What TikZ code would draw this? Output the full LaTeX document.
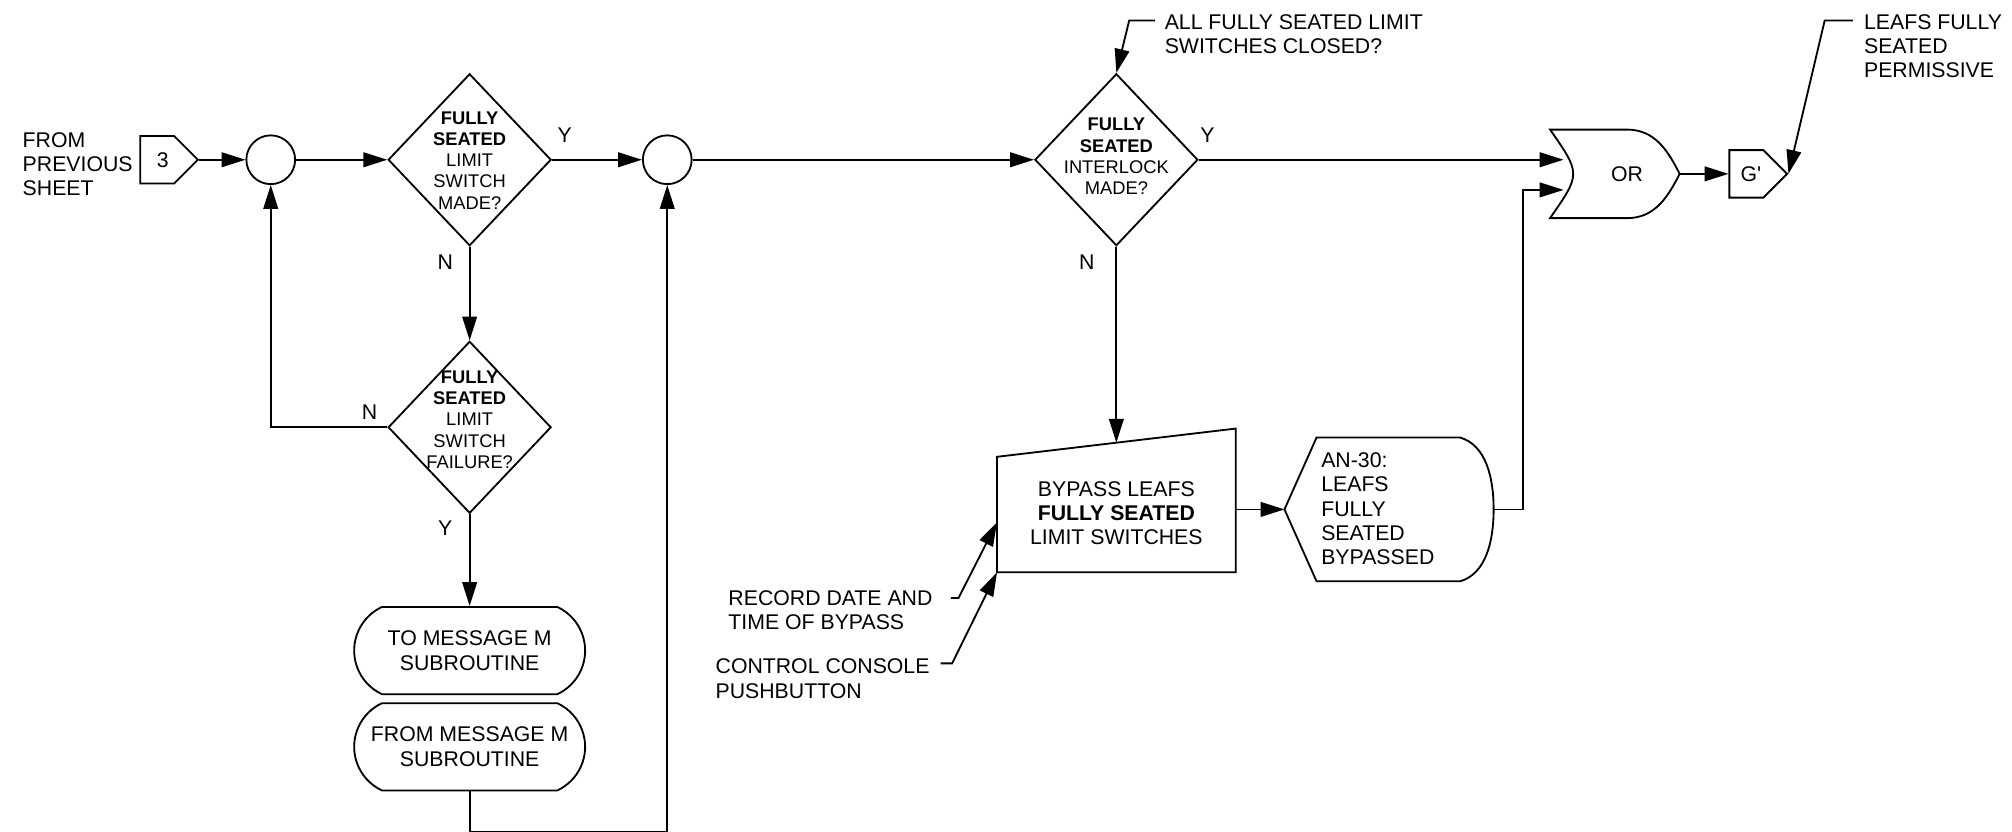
\documentclass[tikz,border=0pt]{standalone}
\usepackage{fontspec}
\setmainfont{Liberation Sans}
\usetikzlibrary{shapes.geometric,shapes.misc,shapes.symbols,arrows.meta}

\begin{document}
\begin{tikzpicture}[x=0.7pt, y=-0.7pt, line width=1pt,
  >={Triangle[length=13pt,width=8pt]},
  every node/.style={font=\fontsize{11.6}{13.3}\selectfont, inner sep=0pt},
  txt/.style={align=left, anchor=west},
  decision/.style={draw, diamond, minimum width=88.9pt, minimum height=93.8pt},
  qtext/.style={align=center, font=\fontsize{10}{11.6}\selectfont},
  joint/.style={draw, circle, minimum size=26.6pt},
  offpage/.style={draw, signal, signal to=east, signal pointer angle=90,
    minimum width=31.5pt, minimum height=25.9pt},
  terminal/.style={draw, rounded rectangle, rounded rectangle arc length=130,
    minimum width=126pt, minimum height=47.6pt, align=center}]
  \useasboundingbox (0,0) rectangle (1568,648);

  % left column
  \node[txt] (prevtxt) at (17,128) {FROM\\PREVIOUS\\SHEET};
  \node[offpage] (sheet3) at (122.5,124.5) {\hspace*{6pt}3};
  \node[joint] (j1) at (211,124.5) {};
  \node[decision] (lsmade) at (366,124.5) {};
  \node[qtext] (lsmadetxt) at (366,125) {\textbf{FULLY}\\\textbf{SEATED}\\LIMIT\\SWITCH\\MADE?};
  \node[decision] (lsfail) at (366,333) {};
  \node[qtext] (lsfailtxt) at (366,327) {\textbf{FULLY}\\\textbf{SEATED}\\LIMIT\\SWITCH\\FAILURE?};
  \node[terminal] (tomsg) at (366,507) {TO MESSAGE M\\SUBROUTINE};
  \node[terminal] (frommsg) at (366,582) {FROM MESSAGE M\\SUBROUTINE};
  \node[joint] (j2) at (520,124.5) {};

  % interlock and bypass
  \node[decision] (ilmade) at (870,124.5) {};
  \node[qtext] (ilmadetxt) at (870,122) {\textbf{FULLY}\\\textbf{SEATED}\\INTERLOCK\\MADE?};
  \coordinate (bp-sw) at (777,446);
  \coordinate (bp-se) at (963,446);
  \coordinate (bp-ne) at (963,334);
  \coordinate (bp-nw) at (777,356);
  \coordinate (bp-top) at (870,345);
  \coordinate (bp-east) at (963,397);
  \coordinate (bp-in) at (777,407);
  \draw (bp-sw) -- (bp-se) -- (bp-ne) -- (bp-nw) -- cycle;
  \node[align=center] (bypass) at (870,400) {BYPASS LEAFS\\\textbf{FULLY SEATED}\\LIMIT SWITCHES};
  \coordinate (an-w) at (1001,397);
  \coordinate (an-e) at (1164,397);
  \draw (an-w) -- (1026,341) -- (1138,341) .. controls (1158,347) and (1164,372) .. (an-e)
    .. controls (1164,422) and (1158,447) .. (1138,453) -- (1026,453) -- cycle;
  \node[txt] (an30) at (1029,396.5) {AN-30:\\LEAFS\\FULLY\\SEATED\\BYPASSED};
  \node[txt] (record) at (567,475.5) {RECORD DATE AND\\TIME OF BYPASS};
  \node[txt] (console) at (557,529) {CONTROL CONSOLE\\PUSHBUTTON};

  % or gate and output
  \coordinate (or-in1) at (1218.5,124.5);
  \coordinate (or-in2) at (1218.5,148);
  \coordinate (or-out) at (1309,135.5);
  \draw (1208,101) -- (1268,101) .. controls (1290,101) and (1300,118) .. (or-out)
    .. controls (1300,153) and (1290,170) .. (1268,170) -- (1208,170)
    .. controls (1232,135.5) .. cycle;
  \node (orlbl) at (1268,135.5) {OR};
  \node[offpage] (gprime) at (1361,135.5) {\hspace*{5pt}G\textquotesingle};
  \node[txt] (allclosed) at (907,26.5) {ALL FULLY SEATED LIMIT\\SWITCHES CLOSED?};
  \node[txt] (permissive) at (1452,36) {LEAFS FULLY\\SEATED\\PERMISSIVE};

  % branch labels
  \node (y1) at (440,105) {Y};
  \node (n1) at (347,204) {N};
  \node (n2) at (288,321) {N};
  \node (y2) at (347,412) {Y};
  \node (y3) at (941,105) {Y};
  \node (n3) at (847,204) {N};

  % connectors
  \draw[->] (sheet3.east) -- (j1.west);
  \draw[->] (j1.east) -- (lsmade.west);
  \draw[->] (lsmade.east) -- (j2.west);
  \draw[->] (j2.east) -- (ilmade.west);
  \draw[->] (ilmade.east) -- (or-in1);
  \draw[->] (lsmade.south) -- (lsfail.north);
  \draw[->] (lsfail.west) -| (j1.south);
  \draw[->] (lsfail.south) -- (tomsg.north);
  \draw[->] (frommsg.south) -- ++(0,32) -| (j2.south);
  \draw[->] (ilmade.south) -- (bp-top);
  \draw[->] (bp-east) -- (an-w);
  \draw[->] (an-e) -- ++(23,0) |- (or-in2);
  \draw[->] (or-out) -- (gprime.west);
  \draw[->] (900,16) -- (880,16) -- (ilmade.north);
  \draw[->] (1444,16) -- (1422,16) -- (gprime.east);
  \draw[->] (741,466) -- (747,466) -- (bp-in);
  \draw[->] (733,517) -- (742,517) -- (bp-sw);
\end{tikzpicture}
\end{document}
